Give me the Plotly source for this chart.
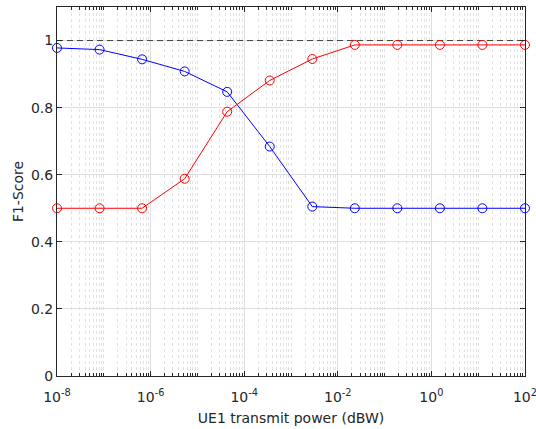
import plotly.graph_objects as go

# Data
tx_power = [1e-8, 8.11e-8, 6.58e-7, 5.34e-6, 4.33e-5, 3.51e-4, 2.85e-3,
            2.31e-2, 0.187, 1.52, 12.3, 100]
f1_blue = [0.978, 0.973, 0.944, 0.908, 0.847, 0.684, 0.505, 0.500, 0.500, 0.500, 0.500, 0.500]
f1_red = [0.500, 0.500, 0.500, 0.588, 0.788, 0.881, 0.945, 0.987, 0.987, 0.987, 0.987, 0.987]
x_tickvals = [1e-8, 1e-6, 1e-4, 1e-2, 1, 100]
x_ticktext = ["10<sup>-8</sup>", "10<sup>-6</sup>", "10<sup>-4</sup>",
              "10<sup>-2</sup>", "10<sup>0</sup>", "10<sup>2</sup>"]
y_tickvals = [0, 0.2, 0.4, 0.6, 0.8, 1]
y_ticktext = ["0", "0.2", "0.4", "0.6", "0.8", "1"]
ref_level = 1.0

minor_vals = [k * 10.0 ** e for e in range(-8, 2) for k in range(1, 10)
              if not (k == 1 and e % 2 == 0)]

axis_col = "#262626"
font = dict(family="DejaVu Sans", size=14, color=axis_col)

fig = go.Figure()
fig.add_trace(go.Scatter(x=[tx_power[0], tx_power[-1]], y=[ref_level, ref_level],
                         mode="lines", line=dict(color="#404040", width=1, dash="6px,4px"),
                         hoverinfo="skip", showlegend=False))
fig.add_trace(go.Scatter(x=tx_power, y=f1_blue, mode="lines+markers",
                         line=dict(color="#0000ff", width=1),
                         marker=dict(symbol="circle-open", size=9, color="#0000ff",
                                     line=dict(width=1)),
                         cliponaxis=False, showlegend=False))
fig.add_trace(go.Scatter(x=tx_power, y=f1_red, mode="lines+markers",
                         line=dict(color="#ff0000", width=1),
                         marker=dict(symbol="circle-open", size=9, color="#ff0000",
                                     line=dict(width=1)),
                         cliponaxis=False, showlegend=False))

fig.update_layout(
    width=536, height=429,
    margin=dict(l=57, r=11, t=7, b=53),
    paper_bgcolor="white", plot_bgcolor="white",
    font=font,
    showlegend=False,
    xaxis=dict(
        type="log", range=[-8.0003, 2.0003], automargin=False,
        tickmode="array", tickvals=x_tickvals, ticktext=x_ticktext,
        ticklabeloverflow="allow", ticklabelstandoff=8,
        ticks="inside", ticklen=5, tickwidth=1, tickcolor=axis_col,
        showline=True, linecolor=axis_col, linewidth=1, mirror="ticks",
        showgrid=True, gridcolor="#dedede", gridwidth=1,
        zeroline=False,
        minor=dict(tickmode="array", tickvals=minor_vals, ticks="inside", ticklen=3,
                   tickcolor=axis_col, tickwidth=1,
                   showgrid=True, gridcolor="#e2e2e2", griddash="dot", gridwidth=1),
        title=dict(text="UE1 transmit power (dBW)", font=dict(size=14), standoff=9),
        tickfont=dict(size=14),
    ),
    yaxis=dict(
        range=[0, 1.1], automargin=False,
        tickmode="array", tickvals=y_tickvals, ticktext=y_ticktext,
        ticks="inside", ticklen=5, tickwidth=1, tickcolor=axis_col,
        showline=True, linecolor=axis_col, linewidth=1, mirror="ticks",
        showgrid=True, gridcolor="#dedede", gridwidth=1,
        zeroline=False,
        title=dict(text="F1-Score", font=dict(size=14), standoff=4),
        tickfont=dict(size=14),
    ),
)

fig.write_html("out.html", config={"displayModeBar": False},
               post_script="document.body.style.margin='0';")
